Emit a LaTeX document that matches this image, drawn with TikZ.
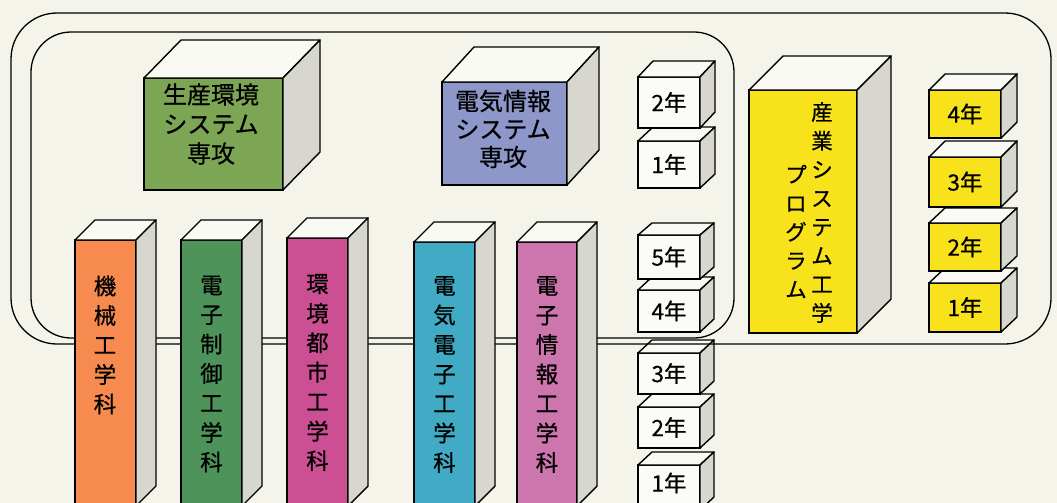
\documentclass[tikz,border=0pt]{standalone}
\usepackage{fontspec}
\newfontfamily\cjk[FakeBold=0.6]{Noto Sans CJK JP}
\definecolor{bg}{HTML}{F5F4EB}
\definecolor{topc}{HTML}{FAFAF5}
\definecolor{sidec}{HTML}{D8D7CF}
\definecolor{yearc}{HTML}{FBFBF7}
\definecolor{orangec}{HTML}{F78B4F}
\definecolor{dgreenc}{HTML}{4E9359}
\definecolor{magc}{HTML}{CC4F93}
\definecolor{cyanc}{HTML}{41AAC5}
\definecolor{pinkc}{HTML}{CC76AD}
\definecolor{lgreenc}{HTML}{7CA654}
\definecolor{bluec}{HTML}{8D97C9}
\definecolor{yellowc}{HTML}{F7E21C}
\tikzset{
  frontface/.style={draw=black, line width=1.4pt, inner sep=0pt, outer sep=0pt, rectangle},
  topface/.style={draw=black, fill=topc, line width=1.4pt, line join=round},
  sideface/.style={draw=black, fill=sidec, line width=1.4pt, line join=round},
  loopline/.style={draw=black, line width=1.3pt},
  vtext/.style={align=center, inner sep=0pt, font=\cjk\fontsize{22.5}{29.5}\selectfont},
  ytext/.style={align=center, inner sep=0pt, font=\cjk\fontsize{22.5}{24}\selectfont},
  btext/.style={align=center, inner sep=0pt, font=\cjk\fontsize{24}{29.5}\selectfont},
}
% name, x, y, w, h, dx, dy, fill
\newcommand\cuboid[8]{%
  \node[frontface, fill=#8, minimum width=#4pt, minimum height=#5pt, anchor=north west] (#1) at (#2,#3) {};
  \filldraw[topface] (#1.north west) -- ++(#6,-#7) -- ++(#4,0) -- (#1.north east) -- cycle;
  \filldraw[sideface] (#1.north east) -- ++(#6,-#7) -- ++(0,#5) -- (#1.south east) -- cycle;
}
\begin{document}
\begin{tikzpicture}[x=1pt, y=-1pt]
\useasboundingbox (0,0) rectangle (1057,503);
\clip (0,0) rectangle (1057,503);
\fill[bg] (0,0) rectangle (1057,503);

% year boxes (lower ones first)
\cuboid{ya1}{638}{141}{62}{47}{15}{14}{yearc}
\cuboid{ya2}{638}{77}{62}{51}{15}{16}{yearc}
\node[ytext] (ta1) at (ya1.center) {1年};
\node[ytext] (ta2) at (ya2.center) {2年};

\cuboid{yb1}{638}{465}{62}{45}{14}{13}{yearc}
\cuboid{yb2}{638}{407}{62}{41}{14}{13}{yearc}
\cuboid{yb3}{638}{353}{62}{41}{14}{13}{yearc}
\cuboid{yb4}{638}{290}{62}{42}{14}{13}{yearc}
\cuboid{yb5}{638}{235}{62}{44}{14}{12}{yearc}
\node[ytext] (tb1) at (669,483) {1年};
\node[ytext] (tb2) at (yb2.center) {2年};
\node[ytext] (tb3) at (yb3.center) {3年};
\node[ytext] (tb4) at (yb4.center) {4年};
\node[ytext] (tb5) at (yb5.center) {5年};

% loop lines
\draw[loopline, rounded corners=46pt] (11,13) rectangle (1051,344);
\draw[loopline, rounded corners=40pt] (31,32) rectangle (734,338);

% master's programs
\cuboid{seisan}{144}{78}{139}{112}{37}{38}{lgreenc}
\node[btext] (tseisan) at (211,124) {生産環境\\システム\\専攻};
\cuboid{denki}{442}{82}{125}{103}{32}{35}{bluec}
\node[btext, font=\cjk\fontsize{24}{28}\selectfont] (tdenki) at (503,129) {電気情報\\システム\\専攻};

% industrial systems engineering program
\cuboid{sangyo}{749}{90}{108}{243}{34}{34}{yellowc}
\node[vtext, font=\cjk\fontsize{21.5}{28.7}\selectfont] (tsangyo1) at (822,212.5) {産\\業\\シ\\ス\\テ\\ム\\工\\学};
\node[vtext, font=\cjk\fontsize{21.5}{28.7}\selectfont] (tsangyo2) at (796,231.5) {プ\\ロ\\グ\\ラ\\ム};

\cuboid{yc1}{929}{283}{72}{49}{16}{15}{yellowc}
\cuboid{yc2}{929}{223}{72}{48}{16}{15}{yellowc}
\cuboid{yc3}{929}{157}{72}{50}{16}{16}{yellowc}
\cuboid{yc4}{929}{90}{72}{48}{16}{16}{yellowc}
\node[ytext] (tc1) at (yc1.center) {1年};
\node[ytext] (tc2) at (yc2.center) {2年};
\node[ytext] (tc3) at (yc3.center) {3年};
\node[ytext] (tc4) at (yc4.center) {4年};

% departments
\cuboid{kikai}{75}{240}{61}{266}{20}{20}{orangec}
\cuboid{seigyo}{181}{240}{61}{266}{20}{20}{dgreenc}
\cuboid{toshi}{287}{238}{61}{268}{20}{20}{magc}
\cuboid{denden}{414}{242}{61}{264}{20}{20}{cyanc}
\cuboid{joho}{517}{242}{60}{264}{20}{20}{pinkc}
\node[vtext] (tkikai) at (105,345) {機\\械\\工\\学\\科};
\node[vtext] (tseigyo) at (211.5,374) {電\\子\\制\\御\\工\\学\\科};
\node[vtext] (ttoshi) at (317.5,372.5) {環\\境\\都\\市\\工\\学\\科};
\node[vtext] (tdenden) at (444.5,374.5) {電\\気\\電\\子\\工\\学\\科};
\node[vtext] (tjoho) at (547,374.5) {電\\子\\情\\報\\工\\学\\科};
\end{tikzpicture}
\end{document}
